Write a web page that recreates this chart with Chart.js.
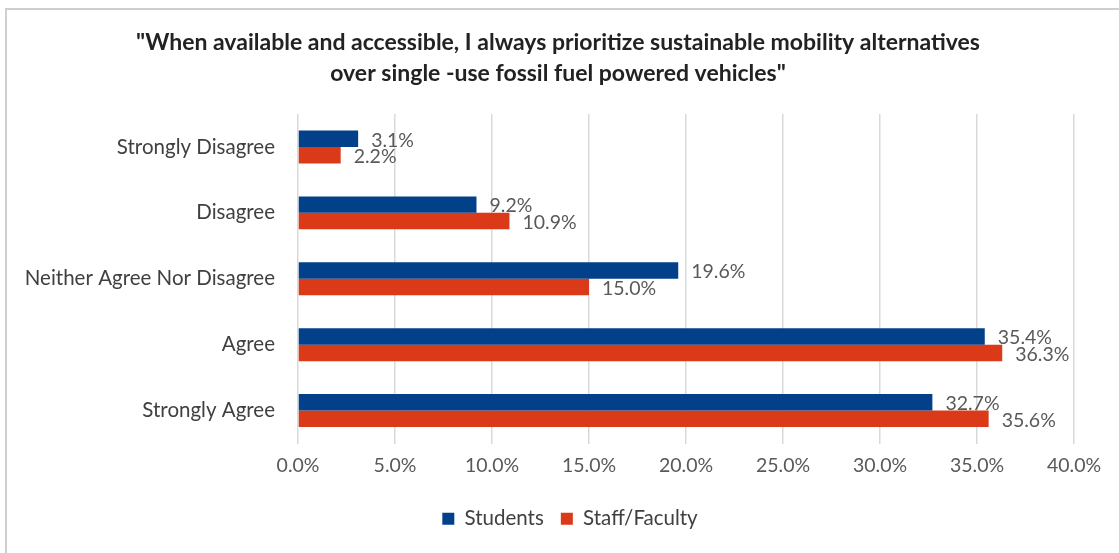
<!DOCTYPE html>
<html>
<head>
<meta charset="utf-8">
<script src="https://cdn.jsdelivr.net/npm/chart.js@4.4.0/dist/chart.umd.min.js"></script>
<style>
  html, body { margin: 0; padding: 0; background: #fff; overflow: hidden; }
  #frame {
    position: absolute; left: 5px; top: 8px; width: 1200px; height: 600px;
    border: 2px solid #cfcfcf; box-sizing: border-box;
  }
  #wrap { position: absolute; left: 0; top: 0; width: 1119px; height: 553px; }
</style>
</head>
<body>
<div id="frame"></div>
<div id="wrap"><canvas id="likertChart"></canvas></div>
<script>
const categories = [
  "Strongly Disagree",
  "Disagree",
  "Neither Agree Nor Disagree",
  "Agree",
  "Strongly Agree",
];
const students = [3.1, 9.2, 19.6, 35.4, 32.7];
const staffFaculty = [2.2, 10.9, 15.0, 36.3, 35.6];
const xTicks = [0, 5, 10, 15, 20, 25, 30, 35, 40];

const FONT = "Lato, 'Open Sans', sans-serif";

// draws the "12.3%" labels just past the end of each bar
const barValueLabels = {
  id: "barValueLabels",
  afterDatasetsDraw(chart) {
    const ctx = chart.ctx;
    ctx.save();
    ctx.font = "19.5px " + FONT;
    ctx.fillStyle = "#595959";
    ctx.textAlign = "left";
    ctx.textBaseline = "middle";
    chart.data.datasets.forEach((ds, i) => {
      const meta = chart.getDatasetMeta(i);
      meta.data.forEach((bar, j) => {
        ctx.fillText(ds.data[j].toFixed(1) + "%", bar.x + 13, bar.y + 1.5);
      });
    });
    ctx.restore();
  },
};

// the wide category labels need a small left padding, so the title and
// legend get their own left edge to stay centred a bit further right
const centerBoxes = {
  id: "centerBoxes",
  afterLayout(chart) {
    if (chart.titleBlock) chart.titleBlock.left = 42;
    if (chart.legend) chart.legend.left = 66;
  },
};

const ctx = document.getElementById("likertChart").getContext("2d");
new Chart(ctx, {
  type: "bar",
  data: {
    labels: categories,
    datasets: [
      {
        label: "Students",
        data: students,
        backgroundColor: "#03408A",
        categoryPercentage: 0.5,
        barPercentage: 1.0,
      },
      {
        label: "Staff/Faculty",
        data: staffFaculty,
        backgroundColor: "#DA3A18",
        categoryPercentage: 0.5,
        barPercentage: 1.0,
      },
    ],
  },
  options: {
    indexAxis: "y",
    responsive: true,
    maintainAspectRatio: false,
    animation: false,
    layout: { padding: { left: 10, right: 45, top: 0, bottom: 14 } },
    plugins: {
      title: {
        display: true,
        text: [
          "\"When available and accessible, I always prioritize sustainable mobility alternatives",
          "over single -use fossil fuel powered vehicles\"",
        ],
        color: "#222",
        font: { family: FONT, size: 23, weight: "bold", lineHeight: 1.348 },
        padding: { top: 27, bottom: 25 },
      },
      legend: {
        position: "bottom",
        labels: {
          color: "#404040",
          font: { family: FONT, size: 20.5 },
          boxWidth: 12,
          boxHeight: 12,
          padding: 17,
        },
      },
      tooltip: { enabled: false },
    },
    scales: {
      x: {
        min: 0,
        max: 40,
        afterBuildTicks(scale) {
          scale.ticks = xTicks.map((v) => ({ value: v }));
        },
        afterFit(scale) {
          scale.height = 48;
        },
        grid: { color: "#d9d9d9", lineWidth: 1.5, drawTicks: false },
        border: { display: false },
        ticks: {
          color: "#595959",
          font: { family: FONT, size: 19.5 },
          padding: 11,
          callback: (v) => Number(v).toFixed(1) + "%",
        },
      },
      y: {
        afterFit(scale) {
          scale.width = 288;
        },
        grid: { display: false, drawTicks: false },
        border: { display: false },
        ticks: {
          color: "#404040",
          font: { family: FONT, size: 20.5 },
          padding: 23,
        },
      },
    },
  },
  plugins: [barValueLabels, centerBoxes],
});
</script>
</body>
</html>
